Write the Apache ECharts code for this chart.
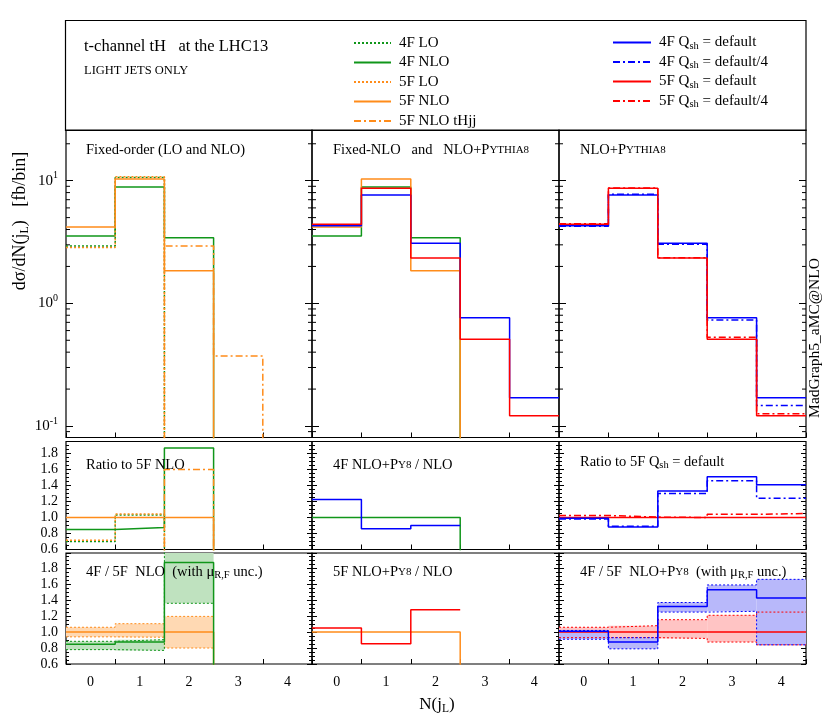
<!DOCTYPE html>
<html>
<head>
<meta charset="utf-8">
<script src="https://cdn.jsdelivr.net/npm/echarts@6/dist/echarts.min.js"></script>
<style>
  html, body { margin: 0; padding: 0; background: #fff; }
  #main { width: 830px; height: 719px; }
</style>
</head>
<body>
<div id="main"></div>
<script>
// bins of N(j_L)
var bins = ['0', '1', '2', '3', '4'];

// fixed order (fb/bin)
var lo4F   = [2.94, 10.6, 0, 0, 0];
var nlo4F  = [3.54, 8.9, 3.43, 0, 0];
var lo5F   = [2.86, 10.75, 0, 0, 0];
var nlo5F  = [4.2, 10.3, 1.84, 0, 0];
var tHjj5F = [0, 0, 2.94, 0.373, 0];

// NLO+PY8 (fb/bin)
var py4F   = [4.3, 7.65, 3.09, 0.764, 0.170];
var py4Fq4 = [4.25, 7.75, 3.03, 0.733, 0.147];
var py5F   = [4.41, 8.67, 2.34, 0.509, 0.121];
var py5Fq4 = [4.45, 8.72, 2.35, 0.528, 0.126];

// ratio to 5F NLO
var rNlo5F = [1, 1, 1, 0, 0];
var rNlo4F = [0.85, 0.875, 1.87, 0, 0];
var rLo4F  = [0.70, 1.03, 0, 0, 0];
var rLo5F  = [0.715, 1.045, 0, 0, 0];
var rTHjj  = [0, 0, 1.60, 0, 0];

// NLO+PY8 / NLO
var rSelf4F = [1, 1, 1, 0, 0];
var rPy4F   = [1.225, 0.86, 0.90];
var rSelf5F = [1, 1, 1, 0, 0];
var rPy5F   = [1.05, 0.855, 1.28];

// ratio to 5F Qsh = default
var qPy5F   = [1, 1, 1, 1, 1];
var qPy5Fq4 = [1.025, 1.005, 1.0, 1.04, 1.05];
var qPy4F   = [0.99, 0.88, 1.33, 1.51, 1.41];
var qPy4Fq4 = [0.98, 0.89, 1.30, 1.46, 1.24];

// 4F / 5F NLO with muR,F uncertainty
var uNlo5F = [1, 1, 1, 0, 0];
var uNlo5FLo = [0.94, 0.935, 0.80];
var uNlo5FHi = [1.06, 1.105, 1.196];
var uNlo4F = [0.846, 0.875, 1.87, 0, 0];
var uNlo4FLo = [0.78, 0.77, 1.36];
var uNlo4FHi = [0.884, 0.905, 2.4];

// 4F / 5F NLO+PY8 with muR,F uncertainty
var uPy5F = [1, 1, 1, 1, 1];
var uPy5FLo = [0.93, 0.93, 0.92, 0.875, 0.84];
var uPy5FHi = [1.06, 1.08, 1.155, 1.21, 1.25];
var uPy4F = [1.01, 0.875, 1.32, 1.53, 1.425];
var uPy4FLo = [0.91, 0.79, 1.25, 1.26, 0.84];
var uPy4FHi = [1.02, 0.93, 1.37, 1.59, 1.66];

// tick values
var logMinor = [0.09, 0.2, 0.3, 0.4, 0.5, 0.6, 0.7, 0.8, 0.9, 2, 3, 4, 5, 6, 7, 8, 9, 20];

var legendLeft = ['4F LO', '4F NLO', '5F LO', '5F NLO', '5F NLO tHjj'];
var legendRight = ['4F Q_sh = default', '4F Q_sh = default/4', '5F Q_sh = default', '5F Q_sh = default/4'];

var FONT = 'Liberation Serif';
var GREEN = '#10961a', ORANGE = '#ff8c1a', BLUE = '#0000ff', RED = '#ff0000';
var DOT = [2, 2], DASHDOT = [7, 3, 2, 3];

var cols = [{ left: 66, width: 246 }, { left: 312, width: 247 }, { left: 559, width: 247 }];
var rows = [
    { top: 130, height: 307.5, log: true },
    { top: 441.5, height: 108, min: 0.6, max: 1.95 },
    { top: 553, height: 111, min: 0.6, max: 1.99 }
];

var subRich = { fontSize: 10.5, lineHeight: 6, verticalAlign: 'bottom', fontFamily: FONT, color: '#000' };
var smallRich = { fontSize: 11, fontFamily: FONT, color: '#000' };

var grid = [], xAxis = [], yAxis = [], series = [];

rows.forEach(function (r, ri) {
    cols.forEach(function (c, ci) {
        var g = ri * 3 + ci;
        grid.push({ left: c.left, width: c.width, top: r.top, height: r.height, show: true,
            borderColor: '#000', borderWidth: 1.2, backgroundColor: 'transparent' });
        xAxis.push({ type: 'value', gridIndex: g, min: -0.5, max: 4.5, show: false });
        xAxis.push({
            type: 'category', gridIndex: g, data: bins, position: 'bottom', boundaryGap: true,
            axisLine: { show: false, onZero: false },
            axisTick: { show: true, inside: true, length: 5, interval: 0, lineStyle: { color: '#000' } },
            axisLabel: { show: ri === 2, fontFamily: FONT, fontSize: 14, color: '#000', margin: 11 },
            splitLine: { show: false }
        });
        var yl, yr;
        if (r.log) {
            yl = {
                type: 'log', logBase: 10, gridIndex: g, min: 0.0806, max: 25.9, position: 'left',
                axisLine: { show: false, onZero: false }, splitLine: { show: false },
                axisTick: { inside: true, length: 7, lineStyle: { color: '#000' } },
                axisLabel: {
                    show: ci === 0, showMinLabel: false, showMaxLabel: false,
                    fontFamily: FONT, fontSize: 15, color: '#000', lineHeight: 20, margin: 8,
                    formatter: function (v) {
                        var l = Math.log10(v), e = Math.round(l);
                        return Math.abs(l - e) < 1e-6 ? '10{sup|' + e + '}' : '';
                    },
                    rich: { sup: { fontSize: 10, lineHeight: 8, verticalAlign: 'top', fontFamily: FONT, color: '#000' } }
                }
            };
        } else {
            yl = {
                type: 'value', gridIndex: g, min: r.min, max: r.max, interval: 0.2, position: 'left',
                axisLine: { show: false, onZero: false }, splitLine: { show: false },
                axisTick: { inside: true, length: 5, lineStyle: { color: '#000' } },
                minorTick: { show: true, splitNumber: 4, length: 3, lineStyle: { color: '#000' } },
                axisLabel: {
                    show: ci === 0, showMaxLabel: false, fontFamily: FONT, fontSize: 14, color: '#000', margin: 8,
                    formatter: function (v) { return v.toFixed(1); }
                }
            };
        }
        yr = JSON.parse(JSON.stringify(yl));
        yr.position = 'right';
        yr.axisLabel = { show: false };
        yAxis.push(yl, yr);

        if (r.log) {
            series.push({
                type: 'custom', xAxisIndex: 2 * g, yAxisIndex: 2 * g, silent: true, z: 1,
                data: logMinor.map(function (v) { return [-0.5, v]; }),
                renderItem: function (params, api) {
                    var v = api.value(1);
                    var a = api.coord([-0.5, v]), b = api.coord([4.5, v]);
                    return { type: 'group', children: [
                        { type: 'line', shape: { x1: a[0], y1: a[1], x2: a[0] + 4, y2: a[1] }, style: { stroke: '#000', lineWidth: 1 } },
                        { type: 'line', shape: { x1: b[0] - 4, y1: b[1], x2: b[0], y2: b[1] }, style: { stroke: '#000', lineWidth: 1 } }
                    ] };
                }
            });
        }
    });
});

function hist(vals, floor) {
    var pts = vals.map(function (v, i) { return [i - 0.5, v > 0 ? v : floor]; });
    var last = vals[vals.length - 1];
    pts.push([vals.length - 0.5, last > 0 ? last : floor]);
    return pts;
}

function line(g, vals, color, type, name, width) {
    var floor = g < 3 ? 0.001 : 0;
    series.push({
        type: 'line', name: name, xAxisIndex: 2 * g, yAxisIndex: 2 * g,
        data: hist(vals, floor), step: 'end', symbol: 'none',
        lineStyle: { color: color, width: width || 1.5, type: type },
        itemStyle: { color: color }, clip: true, animation: false, z: 3
    });
}

function band(g, lo, hi, color, edge) {
    series.push({
        type: 'custom', xAxisIndex: 2 * g, yAxisIndex: 2 * g, silent: true, z: 2,
        data: lo.map(function (l, i) { return [i, l, hi[i]]; }),
        renderItem: function (params, api) {
            var i = api.value(0);
            var a = api.coord([i - 0.5, api.value(2)]);
            var b = api.coord([i + 0.5, api.value(1)]);
            var cs = params.coordSys;
            var rect = echarts.graphic.clipRectByRect(
                { x: a[0], y: a[1], width: b[0] - a[0], height: b[1] - a[1] },
                { x: cs.x, y: cs.y, width: cs.width, height: cs.height });
            return rect && { type: 'rect', shape: rect, style: { fill: color } };
        }
    });
    line(g, lo, edge, DOT, '', 1);
    line(g, hi, edge, DOT, '', 1);
}

// main panels
line(0, lo4F, GREEN, DOT, '4F LO');
line(0, nlo4F, GREEN, 'solid', '4F NLO');
line(0, lo5F, ORANGE, DOT, '5F LO');
line(0, nlo5F, ORANGE, 'solid', '5F NLO');
line(0, tHjj5F, ORANGE, DASHDOT, '5F NLO tHjj');

line(1, nlo4F, GREEN, 'solid', '4F NLO');
line(1, nlo5F, ORANGE, 'solid', '5F NLO');
line(1, py4F, BLUE, 'solid', '4F Q_sh = default');
line(1, py5F, RED, 'solid', '5F Q_sh = default');

line(2, py4F, BLUE, 'solid', '4F Q_sh = default');
line(2, py4Fq4, BLUE, DASHDOT, '4F Q_sh = default/4');
line(2, py5F, RED, 'solid', '5F Q_sh = default');
line(2, py5Fq4, RED, DASHDOT, '5F Q_sh = default/4');

// ratio row 1
line(3, rLo4F, GREEN, DOT, 'r 4F LO');
line(3, rLo5F, ORANGE, DOT, 'r 5F LO');
line(3, rNlo4F, GREEN, 'solid', 'r 4F NLO');
line(3, rTHjj, ORANGE, DASHDOT, 'r 5F NLO tHjj');
line(3, rNlo5F, ORANGE, 'solid', 'r 5F NLO');

line(4, rSelf4F, GREEN, 'solid', 'r 4F NLO');
line(4, rPy4F, BLUE, 'solid', 'r 4F PY8');

line(5, qPy5F, RED, 'solid', 'q 5F');
line(5, qPy5Fq4, RED, DASHDOT, 'q 5F/4');
line(5, qPy4F, BLUE, 'solid', 'q 4F');
line(5, qPy4Fq4, BLUE, DASHDOT, 'q 4F/4');

// ratio row 2
band(6, uNlo5FLo, uNlo5FHi, '#ffd9b3', ORANGE);
band(6, uNlo4FLo, uNlo4FHi, '#bfe2bf', GREEN);
line(6, uNlo5F, ORANGE, 'solid', 'u 5F NLO');
line(6, uNlo4F, GREEN, 'solid', 'u 4F NLO');

line(7, rSelf5F, ORANGE, 'solid', 'r 5F NLO');
line(7, rPy5F, RED, 'solid', 'r 5F PY8');

band(8, uPy5FLo, uPy5FHi, '#ffc4c4', RED);
band(8, uPy4FLo, uPy4FHi, '#b8b8fa', BLUE);
line(8, uPy5F, RED, 'solid', 'u 5F PY8');
line(8, uPy4F, BLUE, 'solid', 'u 4F PY8');

var tStyle = { fontFamily: FONT, fontSize: 14.5, color: '#000', fontWeight: 'normal', lineHeight: 18,
               rich: { s: smallRich, sub: subRich } };
function ttl(text, left, top) {
    return { text: text, left: left, top: top, padding: 0, textStyle: tStyle };
}

var legendText = { fontFamily: FONT, fontSize: 15, color: '#000', lineHeight: 18, padding: [0, 0, 0, 3],
                   rich: { sub: subRich } };

var option = {
    animation: false,
    backgroundColor: '#fff',
    title: [
        { text: 't-channel tH   at the LHC13', left: 84, top: 38, padding: 0,
          textStyle: { fontFamily: FONT, fontSize: 16.5, color: '#000', fontWeight: 'normal' } },
        { text: 'LIGHT JETS ONLY', left: 84, top: 64, padding: 0,
          textStyle: { fontFamily: FONT, fontSize: 12.5, color: '#000', fontWeight: 'normal' } },
        ttl('Fixed-order (LO and NLO)', 86, 141),
        ttl('Fixed-NLO   and   NLO+P{s|YTHIA8}', 333, 141),
        ttl('NLO+P{s|YTHIA8}', 580, 141),
        ttl('Ratio to 5F NLO', 86, 456),
        ttl('4F NLO+P{s|Y8} / NLO', 333, 456),
        ttl('Ratio to 5F Q{sub|sh} = default', 580, 453),
        ttl('4F / 5F  NLO  (with \u03bc{sub|R,F} unc.)', 86, 563),
        ttl('5F NLO+P{s|Y8} / NLO', 333, 563),
        ttl('4F / 5F  NLO+P{s|Y8}  (with \u03bc{sub|R,F} unc.)', 580, 563)
    ],
    legend: [
        { data: legendLeft, orient: 'vertical', left: 353, top: 34, padding: 0,
          itemWidth: 37, itemHeight: 12, itemGap: 1.5, itemStyle: { opacity: 0 },
          textStyle: legendText },
        { data: legendRight, orient: 'vertical', left: 612, top: 33.5, padding: 0,
          itemWidth: 38, itemHeight: 12, itemGap: 1.5, itemStyle: { opacity: 0 },
          formatter: function (n) { return n.replace('Q_sh', 'Q{sub|sh}'); },
          textStyle: legendText }
    ],
    grid: grid,
    xAxis: xAxis,
    yAxis: yAxis,
    series: series,
    graphic: [
        { type: 'rect', shape: { x: 65.5, y: 20.5, width: 740.5, height: 110 },
          style: { fill: 'none', stroke: '#000', lineWidth: 1.2 }, z: 10 },
        { type: 'text', x: 20, y: 221, rotation: Math.PI / 2,
          style: { text: 'd\u03c3/dN(j{sub|L})   [fb/bin]', fontFamily: FONT, fontSize: 18, fill: '#000',
                   align: 'center', verticalAlign: 'middle', lineHeight: 22,
                   rich: { sub: { fontSize: 12, lineHeight: 6, verticalAlign: 'bottom', fontFamily: FONT, fill: '#000' } } } },
        { type: 'text', x: 815, y: 338, rotation: Math.PI / 2,
          style: { text: 'MadGraph5_aMC@NLO', fontFamily: FONT, fontSize: 15.5, fill: '#000',
                   align: 'center', verticalAlign: 'middle' } },
        { type: 'text', x: 437, y: 705,
          style: { text: 'N(j{sub|L})', fontFamily: FONT, fontSize: 17, fill: '#000',
                   align: 'center', verticalAlign: 'middle', lineHeight: 20,
                   rich: { sub: { fontSize: 11.5, lineHeight: 6, verticalAlign: 'bottom', fontFamily: FONT, fill: '#000' } } } }
    ]
};

var chart = echarts.init(document.getElementById('main'));
chart.setOption(option);
window.addEventListener('resize', function () { chart.resize(); });
</script>
</body>
</html>
